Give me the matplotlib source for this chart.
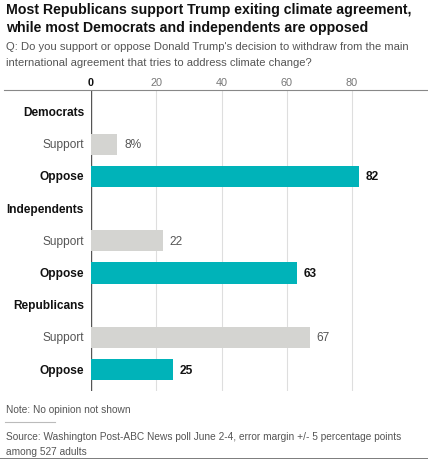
import matplotlib.pyplot as plt

# Data
groups = ["Democrats", "Independents", "Republicans"]
responses = ["Support", "Oppose"]
support_vals = [8, 22, 67]
oppose_vals = [82, 63, 25]
tick_vals = [0, 20, 40, 60, 80]

TEAL = "#00b3b9"
LIGHT = "#d4d4d1"
DARK = "#111111"
GRAY = "#555555"

W, H = 428, 460
fig = plt.figure(figsize=(W / 100, H / 100), dpi=100)
plt.rcParams["font.family"] = ["Liberation Sans", "DejaVu Sans"]


def fx(px):
    return px / W


def fy(py):
    return 1 - py / H


# title + question
fig.text(fx(6), fy(10), "Most Republicans support Trump exiting climate agreement,",
         fontsize=10.2, fontweight="bold", color=DARK, va="center", ha="left")
fig.text(fx(6), fy(28), "while most Democrats and independents are opposed",
         fontsize=10.2, fontweight="bold", color=DARK, va="center", ha="left")
fig.text(fx(6), fy(47), "Q: Do you support or oppose Donald Trump's decision to withdraw from the main",
         fontsize=8.1, color=GRAY, va="center", ha="left")
fig.text(fx(6), fy(63), "international agreement that tries to address climate change?",
         fontsize=8.1, color=GRAY, va="center", ha="left")

# axes: zero at x=91, 80 at x=352 -> right edge at 428
left_px, right_px = 91, 428
top_px, bot_px = 91, 392
ax = fig.add_axes([fx(left_px), fy(bot_px), fx(right_px - left_px), (bot_px - top_px) / H])
px_per_unit = (352 - 91) / 80
ax.set_xlim(0, (right_px - left_px) / px_per_unit)
row = 32.2
ax.set_ylim((bot_px - 113) / row, (top_px - 113) / row)

# rows
labels, ypos, vals, kinds = [], [], [], []
r = 0
for g, s, o in zip(groups, support_vals, oppose_vals):
    labels.append(g); ypos.append(r); vals.append(None); kinds.append("group")
    labels.append(responses[0]); ypos.append(r + 1); vals.append(s); kinds.append("support")
    labels.append(responses[1]); ypos.append(r + 2); vals.append(o); kinds.append("oppose")
    r += 3

for t in tick_vals:
    ax.axvline(t, color="#555555" if t == 0 else "#dedede", lw=1.0 if t == 0 else 0.8, zorder=0)

first = True
for lab, y, v, k in zip(labels, ypos, vals, kinds):
    if k == "group":
        ax.text(-7 / px_per_unit, y, lab, ha="right", va="center", fontsize=8.6,
                fontweight="bold", color=DARK)
        continue
    col = LIGHT if k == "support" else TEAL
    ax.barh(y, v, height=0.66, color=col, zorder=2)
    bold = k == "oppose"
    ax.text(-7 / px_per_unit, y, lab, ha="right", va="center", fontsize=8.6,
            fontweight="bold" if bold else "normal", color=DARK if bold else GRAY)
    txt = f"{v}%" if first else f"{v}"
    first = False
    ax.text(v + 7 / px_per_unit, y, txt, ha="left", va="center", fontsize=8.6,
            fontweight="bold" if bold else "normal", color=DARK if bold else GRAY)

ax.set_xticks(tick_vals)
ax.set_xticklabels([str(t) for t in tick_vals])
ax.xaxis.tick_top()
ax.tick_params(axis="x", length=0, pad=2, labelsize=7.8, labelcolor="#777777")
ax.get_xticklabels()[0].set_fontweight("bold")
ax.get_xticklabels()[0].set_color(DARK)
ax.set_yticks([])
for sp in ax.spines.values():
    sp.set_visible(False)

# top rule across the chart
fig.add_artist(plt.Line2D([fx(4), 1], [fy(91), fy(91)], color="#888888", lw=0.8))

# notes
fig.text(fx(6), fy(410), "Note: No opinion not shown", fontsize=7.3, color=GRAY, va="center")
fig.add_artist(plt.Line2D([fx(5), fx(55)], [fy(423), fy(423)], color="#bbbbbb", lw=0.8))
fig.text(fx(6), fy(437), "Source: Washington Post-ABC News poll June 2-4, error margin +/- 5 percentage points",
         fontsize=7.3, color=GRAY, va="center")
fig.text(fx(6), fy(452), "among 527 adults", fontsize=7.3, color=GRAY, va="center")
fig.add_artist(plt.Line2D([0, 1], [fy(459.5), fy(459.5)], color="#666666", lw=1.2))

fig.savefig("out.png", dpi=100)
